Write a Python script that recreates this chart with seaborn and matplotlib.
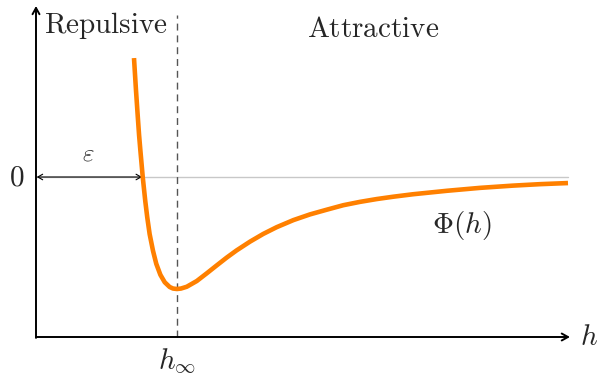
import matplotlib
matplotlib.use("Agg")
import matplotlib.pyplot as plt
import seaborn as sns
import pandas as pd

# Interaction potential Phi(h): separation h (units of h_inf), energy (units of well depth)
h = [0.695, 0.709, 0.722, 0.731, 0.740, 0.757, 0.775, 0.789, 0.806, 0.830,
     0.853, 0.882, 0.913, 0.948, 0.972, 1.000, 1.028, 1.069, 1.140, 1.211,
     1.282, 1.352, 1.423, 1.518, 1.612, 1.707, 1.825, 1.943, 2.062, 2.179,
     2.298, 2.416, 2.534, 2.674, 2.915, 3.149, 3.383, 3.574, 3.773]
phi = [1.062, 0.777, 0.536, 0.375, 0.241, 0.000, -0.215, -0.360, -0.510, -0.660,
       -0.775, -0.873, -0.940, -0.982, -0.996, -1.000, -0.996, -0.980, -0.929, -0.860,
       -0.789, -0.720, -0.655, -0.577, -0.508, -0.448, -0.385, -0.334, -0.292, -0.252,
       -0.222, -0.197, -0.176, -0.154, -0.123, -0.097, -0.077, -0.064, -0.054]

h_inf = 1.0
epsilon = 0.757
region_labels = ["Repulsive", "Attractive"]

sns.set_style("white")
plt.rcParams["mathtext.fontset"] = "cm"
plt.rcParams["font.family"] = ["DejaVu Serif"]

fig = plt.figure(figsize=(5.97, 3.75), dpi=100)
ax = fig.add_axes([0, 0, 1, 1])
ax.set_xlim(-0.2553, 3.9787)
ax.set_ylim(-1.7679, 1.5804)
ax.set_axis_off()

y_base = -1.4286
x_end = 3.787
y_top = 1.527

# zero level
ax.plot([0, 3.773], [0, 0], color="#c8c8c8", lw=1.0, zorder=1)

# dashed marker at h_inf
ax.plot([h_inf, h_inf], [y_base, 1.446], color="#555555", lw=1.0,
        ls=(0, (5, 3.5)), zorder=1)

# potential curve
df = pd.DataFrame({"h": h, "phi": phi})
sns.lineplot(data=df, x="h", y="phi", ax=ax, color="#ff8000", lw=3.3,
             sort=False, zorder=3)
ax.lines[-1].set_solid_capstyle("butt")
ax.lines[-1].set_solid_joinstyle("round")

# coordinate axes with arrow heads
arrow_kw = dict(arrowstyle="->,head_length=0.45,head_width=0.25", lw=1.4,
                color="black", shrinkA=0, shrinkB=0)
ax.annotate("", xy=(x_end, y_base), xytext=(0, y_base), arrowprops=arrow_kw)
ax.annotate("", xy=(0, y_top), xytext=(0, y_base - 0.008), arrowprops=arrow_kw)

# epsilon span
ax.annotate("", xy=(epsilon - 0.005, 0), xytext=(0.005, 0),
            arrowprops=dict(arrowstyle="<->,head_length=0.35,head_width=0.2",
                            lw=0.8, color="black", shrinkA=0, shrinkB=0), zorder=2)
ax.text(0.37, 0.10, r"$\varepsilon$", fontsize=18, ha="center", va="bottom")

# labels
fs = 21
ax.text(0.496, 1.35, r"$\mathrm{" + region_labels[0] + "}$", fontsize=fs,
        ha="center", va="center")
ax.text(2.39, 1.32, r"$\mathrm{" + region_labels[1] + "}$", fontsize=fs,
        ha="center", va="center")
ax.text(-0.08, 0.0, r"$0$", fontsize=fs, ha="right", va="center")
ax.text(3.02, -0.43, r"$\Phi(h)$", fontsize=fs, ha="center", va="center")
ax.text(h_inf, y_base - 0.09, r"$h_\infty$", fontsize=fs, ha="center", va="top")
ax.text(3.86, y_base, r"$h$", fontsize=fs, ha="left", va="center")

fig.savefig("out.png", dpi=100)
